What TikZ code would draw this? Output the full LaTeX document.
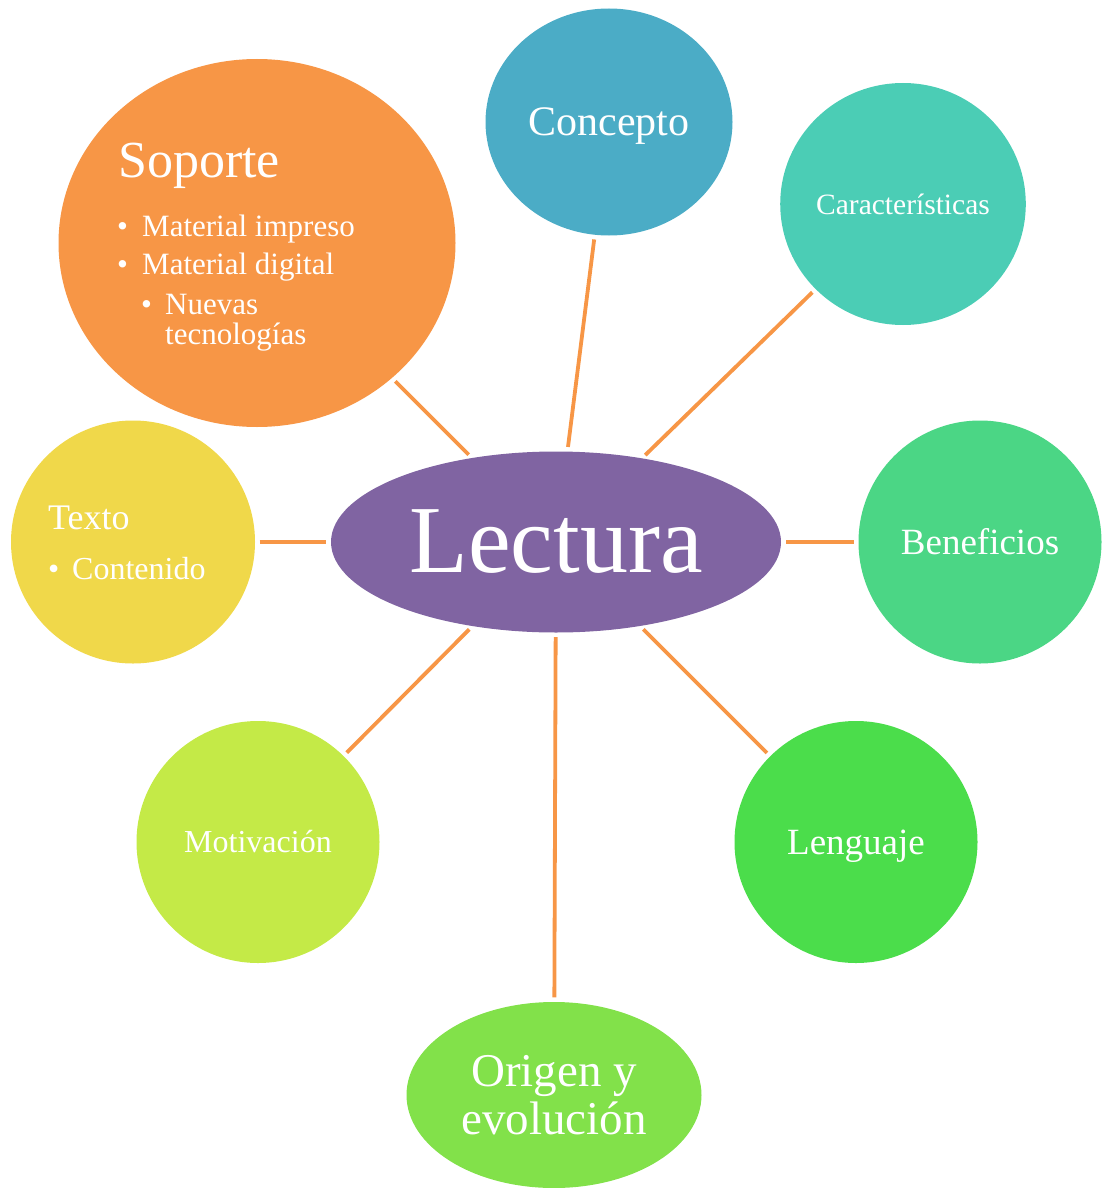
\documentclass[tikz,border=0pt]{standalone}
\usepackage{fontspec}
\setmainfont{Liberation Serif}
\usetikzlibrary{shapes.geometric}
\definecolor{lectc}{HTML}{8064A2}
\definecolor{concc}{HTML}{4BACC6}
\definecolor{carac}{HTML}{4BCDB5}
\definecolor{benec}{HTML}{4BD685}
\definecolor{lengc}{HTML}{4BDD4B}
\definecolor{origc}{HTML}{82E14A}
\definecolor{motic}{HTML}{C4EA47}
\definecolor{textc}{HTML}{F0D84A}
\definecolor{soptc}{HTML}{F79646}
\newcommand{\fsz}[1]{\fontsize{#1}{1.02\dimexpr#1pt\relax}\selectfont}

\begin{document}
\begin{tikzpicture}[
        x=1pt,y=-1pt,
        blob/.style={ellipse,inner sep=0pt,text=white,align=center},
        lbl/.style={anchor=base west,inner sep=0pt,text=white},
        link/.style={draw=soptc,line width=3.8pt,shorten <=4.5pt,shorten >=4.5pt}
    ]
    \useasboundingbox (0,0) rectangle (1101,1188);

    % centre
    \node[blob,fill=lectc,minimum width=450pt,minimum height=181pt,font=\fsz{96}] (lectura) at (556,542) {Lectura};

    % satellites
    \node[blob,fill=concc,minimum width=247pt,minimum height=227pt,text depth=0pt,font=\fsz{42}] (concepto) at (609,122) {Concepto};
    \node[blob,fill=carac,minimum width=244pt,minimum height=242pt,font=\fsz{29.5}] (caract) at (903,204) {Características};
    \node[blob,fill=benec,minimum width=243pt,minimum height=243pt,font=\fsz{37}] (benef) at (980,542) {Beneficios};
    \node[blob,fill=lengc,minimum width=243pt,minimum height=242pt,text depth=0pt,font=\fsz{37}] (lenguaje) at (856,842) {Lenguaje};
    \node[blob,fill=origc,minimum width=295pt,minimum height=186pt,font=\fsz{47}] (origen) at (554,1095) {Origen y\\evolución};
    \node[blob,fill=motic,minimum width=243pt,minimum height=242pt,font=\fsz{32}] (motiv) at (258,842) {Motivación};
    \node[blob,fill=textc,minimum width=244pt,minimum height=243pt] (texto) at (133,542) {};
    \node[blob,fill=soptc,minimum width=397pt,minimum height=368pt] (soporte) at (257,243) {};

    % texts of the two lists
    \node[lbl,font=\fsz{36}] (textot) at (48,529) {Texto};
    \node[lbl,font=\fsz{32}] (textob) at (48,579) {•};
    \node[lbl,font=\fsz{32}] (textoa) at (72,579) {Contenido};

    \node[lbl,font=\fsz{52}] (soportet) at (118,177) {Soporte};
    \node[lbl,font=\fsz{31}] (sopb1) at (117,236) {•};
    \node[lbl,font=\fsz{31}] (sopa1) at (142,236) {Material impreso};
    \node[lbl,font=\fsz{31}] (sopb2) at (117,274) {•};
    \node[lbl,font=\fsz{31}] (sopa2) at (142,274) {Material digital};
    \node[lbl,font=\fsz{31}] (sopb3) at (141,314) {•};
    \node[lbl,font=\fsz{31}] (sopa3) at (165,314) {Nuevas};
    \node[lbl,font=\fsz{31}] (sopa4) at (165,344) {tecnologías};

    % spokes
    \foreach \n in {concepto,caract,benef,lenguaje,origen,motiv,texto,soporte} {
        \draw[link] (\n) -- (lectura);
    }
\end{tikzpicture}
\end{document}
